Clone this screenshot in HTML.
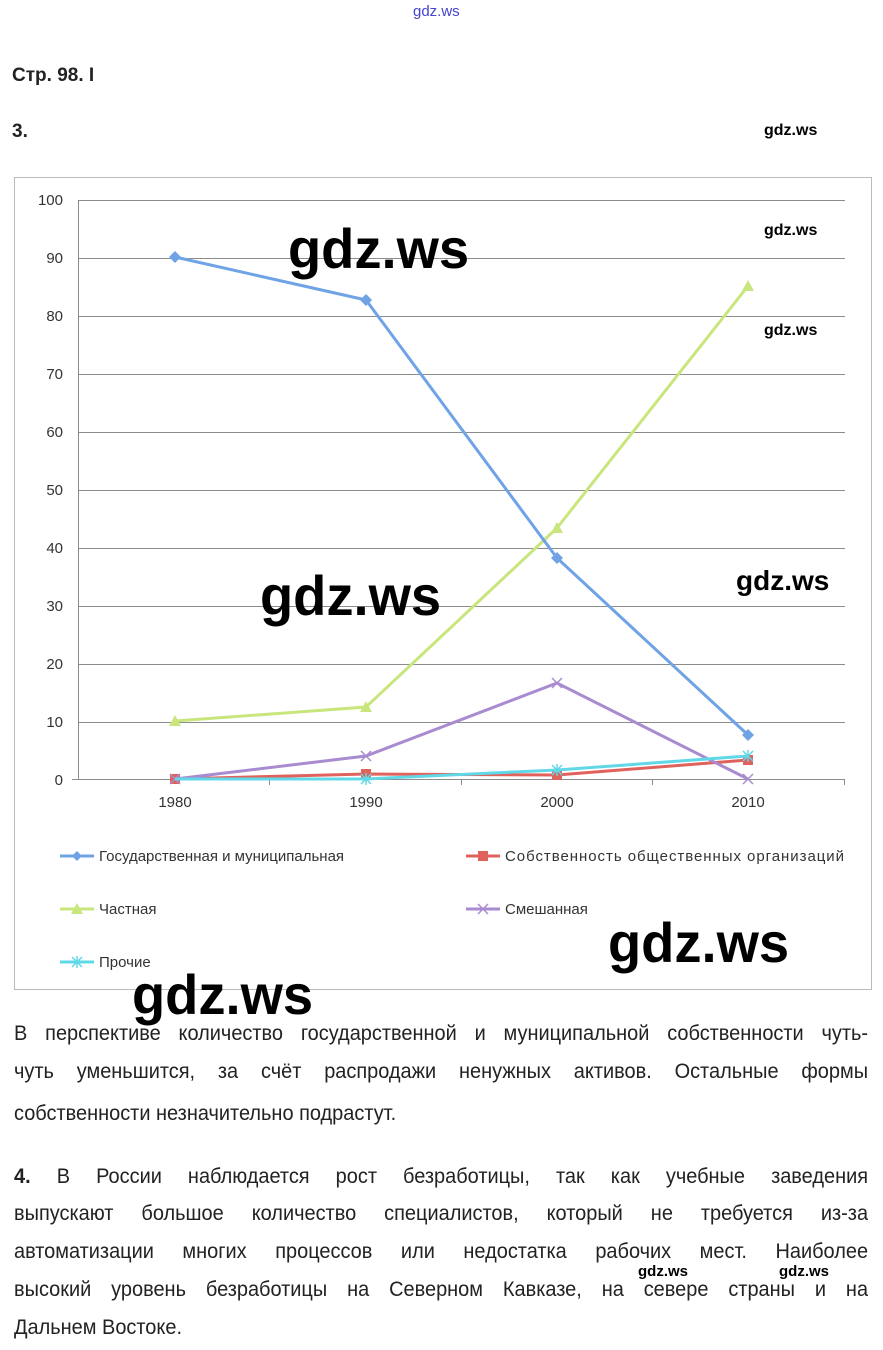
<!DOCTYPE html>
<html><head><meta charset="utf-8"><style>
body{margin:0;width:883px;height:1350px;background:#fff;position:relative;overflow:hidden;font-family:"Liberation Sans",sans-serif;color:#222}
.a{position:absolute;white-space:nowrap}
.wm{position:absolute;font-family:"Liberation Sans",sans-serif;font-weight:bold;color:#000;white-space:nowrap}
.ln{position:absolute;left:14px;width:899px;transform:scaleX(0.95);transform-origin:left top;font-size:21px;text-align:justify;text-align-last:justify;color:#222;line-height:26px;height:26px;overflow:hidden}
.ln.l{text-align-last:left}
</style></head><body>
<div class="a" style="left:413px;top:3px;font-size:15px;color:#4444cc">gdz.ws</div>
<div class="a" style="left:12px;top:65px;font-size:19px;font-weight:bold;color:#222">Стр. 98. I</div>
<div class="a" style="left:12px;top:121px;font-size:19px;font-weight:bold;color:#222">3.</div>
<div class="wm" style="left:764px;top:122px;font-size:16px">gdz.ws</div>
<svg class="a" style="left:0;top:0" width="883" height="1010">
<rect x="14.5" y="177.5" width="857" height="812" fill="#fff" stroke="#bbb"/>
<g stroke="#8c8c8c" stroke-width="1">
<line x1="78" y1="200.5" x2="845" y2="200.5"/><line x1="78" y1="258.5" x2="845" y2="258.5"/><line x1="78" y1="316.5" x2="845" y2="316.5"/><line x1="78" y1="374.5" x2="845" y2="374.5"/><line x1="78" y1="432.5" x2="845" y2="432.5"/><line x1="78" y1="490.5" x2="845" y2="490.5"/><line x1="78" y1="548.5" x2="845" y2="548.5"/><line x1="78" y1="606.5" x2="845" y2="606.5"/><line x1="78" y1="664.5" x2="845" y2="664.5"/><line x1="78" y1="722.5" x2="845" y2="722.5"/><line x1="72" y1="779.5" x2="845" y2="779.5"/>
<line x1="78.5" y1="200" x2="78.5" y2="779"/>
<line x1="269.5" y1="779" x2="269.5" y2="785"/><line x1="461.5" y1="779" x2="461.5" y2="785"/><line x1="652.5" y1="779" x2="652.5" y2="785"/><line x1="844.5" y1="779" x2="844.5" y2="785"/>
</g>
<g font-size="15" fill="#333" text-anchor="end">
<text x="63" y="205">100</text><text x="63" y="263">90</text><text x="63" y="321">80</text><text x="63" y="379">70</text><text x="63" y="437">60</text><text x="63" y="495">50</text><text x="63" y="553">40</text><text x="63" y="611">30</text><text x="63" y="669">20</text><text x="63" y="727">10</text><text x="63" y="785">0</text>
</g>
<g font-size="15" fill="#333" text-anchor="middle">
<text x="175" y="807">1980</text><text x="366" y="807">1990</text><text x="557" y="807">2000</text><text x="748" y="807">2010</text>
</g>
<polyline points="175,779 366,774 557,775 748,760" fill="none" stroke="#e0625c" stroke-width="3"/>
<g fill="#e0625c"><rect x="170" y="774" width="10" height="10"/><rect x="361" y="769" width="10" height="10"/><rect x="552" y="770" width="10" height="10"/><rect x="743" y="755" width="10" height="10"/></g>
<polyline points="175,779 366,756 557,683 748,779" fill="none" stroke="#a98bd0" stroke-width="3"/>
<g stroke="#a98bd0" stroke-width="1.5"><path d="M361,751l10,10M371,751l-10,10M552,678l10,10M562,678l-10,10M743,774l10,10M753,774l-10,10M170,774l10,10M180,774l-10,10"/></g>
<polyline points="175,779 366,779 557,770 748,756" fill="none" stroke="#60d8e8" stroke-width="3"/>
<g stroke="#60d8e8" stroke-width="1.5"><path d="M361,774l10,10M371,774l-10,10M366,773v12M552,765l10,10M562,765l-10,10M557,764v12M743,751l10,10M753,751l-10,10M748,750v12"/></g>
<polyline points="175,721 366,707 557,528 748,286" fill="none" stroke="#c8e67c" stroke-width="3"/>
<g fill="#c8e67c"><path d="M169,726h12l-6,-11z"/><path d="M360,712h12l-6,-11z"/><path d="M551,533h12l-6,-11z"/><path d="M742,291h12l-6,-11z"/></g>
<polyline points="175,257 366,300 557,558 748,735" fill="none" stroke="#6fa3e6" stroke-width="3"/>
<g fill="#6fa3e6"><path d="M175,251l6,6l-6,6l-6,-6z"/><path d="M366,294l6,6l-6,6l-6,-6z"/><path d="M557,552l6,6l-6,6l-6,-6z"/><path d="M748,729l6,6l-6,6l-6,-6z"/></g>
<g stroke-width="3">
<line x1="60" y1="856" x2="94" y2="856" stroke="#6fa3e6"/><path d="M77,851l5,5l-5,5l-5,-5z" fill="#6fa3e6"/>
<line x1="466" y1="856" x2="500" y2="856" stroke="#e0625c"/><rect x="478" y="851" width="10" height="10" fill="#e0625c"/>
<line x1="60" y1="909" x2="94" y2="909" stroke="#c8e67c"/><path d="M71,914h12l-6,-11z" fill="#c8e67c"/>
<line x1="466" y1="909" x2="500" y2="909" stroke="#a98bd0"/><path d="M478,904l10,10M488,904l-10,10" stroke="#a98bd0" stroke-width="1.5"/>
<line x1="60" y1="962" x2="94" y2="962" stroke="#60d8e8"/><path d="M72,957l10,10M82,957l-10,10M77,956v12" stroke="#60d8e8" stroke-width="1.5"/>
</g>
<g font-size="15" fill="#333">
<text x="99" y="861">Государственная и муниципальная</text>
<text x="505" y="861" textLength="339">Собственность общественных организаций</text>
<text x="99" y="914">Частная</text>
<text x="505" y="914">Смешанная</text>
<text x="99" y="967">Прочие</text>
</g>
</svg>
<div class="wm" style="left:288px;top:216px;font-size:56px;transform:scaleX(0.97);transform-origin:left">gdz.ws</div>
<div class="wm" style="left:764px;top:222px;font-size:16px">gdz.ws</div>
<div class="wm" style="left:764px;top:322px;font-size:16px">gdz.ws</div>
<div class="wm" style="left:260px;top:563px;font-size:56px;transform:scaleX(0.97);transform-origin:left">gdz.ws</div>
<div class="wm" style="left:736px;top:565px;font-size:28px">gdz.ws</div>
<div class="wm" style="left:608px;top:910px;font-size:56px;transform:scaleX(0.97);transform-origin:left">gdz.ws</div>
<div class="wm" style="left:132px;top:962px;font-size:56px;transform:scaleX(0.97);transform-origin:left">gdz.ws</div>
<div class="ln" style="top:1021px">В перспективе количество государственной и муниципальной собственности чуть-</div>
<div class="ln" style="top:1059px">чуть уменьшится, за счёт распродажи ненужных активов. Остальные формы</div>
<div class="ln l" style="top:1101px">собственности незначительно подрастут.</div>
<div class="ln" style="top:1164px"><b>4.</b> В России наблюдается рост безработицы, так как учебные заведения</div>
<div class="ln" style="top:1201px">выпускают большое количество специалистов, который не требуется из-за</div>
<div class="ln" style="top:1239px">автоматизации многих процессов или недостатка рабочих мест. Наиболее</div>
<div class="ln" style="top:1277px">высокий уровень безработицы на Северном Кавказе, на севере страны и на</div>
<div class="ln l" style="top:1315px">Дальнем Востоке.</div>
<div class="wm" style="left:638px;top:1263px;font-size:15px">gdz.ws</div>
<div class="wm" style="left:779px;top:1263px;font-size:15px">gdz.ws</div>
</body></html>
